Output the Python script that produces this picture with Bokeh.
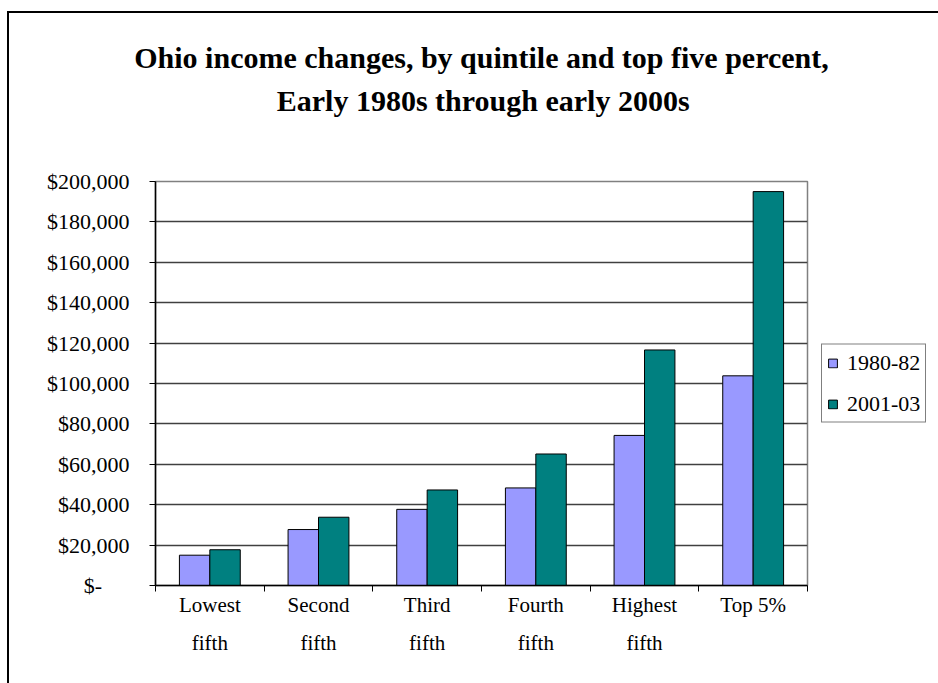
from bokeh.plotting import figure
from bokeh.models import (FactorRange, Range1d, LinearAxis, CategoricalAxis, FixedTicker,
                          NumeralTickFormatter, ColumnDataSource, Legend, LegendItem, Title,
                          CustomJSTickFormatter)
from bokeh.transform import dodge
from bokeh.embed import file_html
from bokeh.resources import INLINE

# ---- data ----
categories = ["Lowest fifth", "Second fifth", "Third fifth", "Fourth fifth", "Highest fifth", "Top 5%"]
label_line1 = ["Lowest", "Second", "Third", "Fourth", "Highest", "Top 5%"]
label_line2 = ["fifth", "fifth", "fifth", "fifth", "fifth", ""]
income_1980_82 = [15000, 27700, 37700, 48300, 74300, 103800]
income_2001_03 = [17700, 33800, 47300, 65100, 116600, 195000]
series_names = ["1980-82", "2001-03"]
y_ticks = [0, 20000, 40000, 60000, 80000, 100000, 120000, 140000, 160000, 180000, 200000]
title_line1 = "Ohio income changes, by quintile and top five percent,"
title_line2 = "Early 1980s through early 2000s"

SERIF = "Liberation Serif"
C1 = "#9999FF"
C2 = "#008080"
NB = "\u00a0"

source = ColumnDataSource(data=dict(cat=categories, a=income_1980_82, b=income_2001_03))

# canvas starts at page (9, 13): the chart box border sits just left/above it
p = figure(width=929, height=670, frame_width=652, frame_height=404,
           output_backend="svg", toolbar_location=None,
           x_range=FactorRange(*categories), y_range=Range1d(0, 200000),
           x_axis_location=None, y_axis_location="left",
           min_border_left=146, min_border_right=131, min_border_top=168, min_border_bottom=98)
p.styles = {"margin-left": "7px", "margin-top": "11px",
            "border-left": "2px solid #000000", "border-top": "2px solid #000000"}
p.x_range.range_padding = 0
p.background_fill_color = "white"
p.border_fill_color = "white"
p.outline_line_color = "#808080"
p.outline_line_width = 1.5

r1 = p.vbar(x=dodge("cat", -0.14, range=p.x_range), top="a", width=0.28, source=source,
            fill_color=C1, line_color="#000000", line_width=1)
r2 = p.vbar(x=dodge("cat", 0.14, range=p.x_range), top="b", width=0.28, source=source,
            fill_color=C2, line_color="#000000", line_width=1)

# y axis
ya = p.yaxis[0]
ya.ticker = FixedTicker(ticks=y_ticks)
ya.formatter = NumeralTickFormatter(format="$0,0")
ya.major_label_overrides = {0: "$-" + NB * 5}
ya.major_label_text_font = SERIF
ya.major_label_text_font_size = "22px"
ya.major_label_text_color = "#000000"
ya.axis_line_color = "#000000"
ya.axis_line_width = 1.5
ya.major_tick_line_color = "#000000"
ya.major_tick_out = 6
ya.major_tick_in = 0
ya.minor_tick_line_color = None
ya.major_label_standoff = 20

for g in p.grid:
    if g.dimension == 0:
        g.visible = False
    else:
        g.grid_line_color = "#404040"
        g.grid_line_width = 1.5
        g.ticker = FixedTicker(ticks=y_ticks)

# x axes: boundary ticks (between categories), then two lines of category labels
xa = LinearAxis(ticker=FixedTicker(ticks=list(range(len(categories) + 1))),
                major_label_text_font_size="0px", major_label_standoff=0,
                axis_line_color="#000000", axis_line_width=1.5,
                major_tick_line_color="#000000", major_tick_out=6, major_tick_in=0,
                minor_tick_line_color=None)
p.add_layout(xa, "below")

fmt1 = CustomJSTickFormatter(args=dict(cats=categories, labs=label_line1),
                             code="const i = cats.indexOf(tick); return i >= 0 ? labs[i] : '';")
fmt2 = CustomJSTickFormatter(args=dict(cats=categories, labs=label_line2),
                             code="const i = cats.indexOf(tick); return i >= 0 ? labs[i] : '';")
xb = CategoricalAxis(formatter=fmt1, axis_line_color=None, major_tick_line_color=None,
                     minor_tick_line_color=None,
                     major_label_text_font=SERIF, major_label_text_font_size="21px",
                     major_label_text_color="#000000", major_label_standoff=-5)
p.add_layout(xb, "below")
xc = CategoricalAxis(formatter=fmt2, axis_line_color=None, major_tick_line_color=None,
                     minor_tick_line_color=None,
                     major_label_text_font=SERIF, major_label_text_font_size="21px",
                     major_label_text_color="#000000", major_label_standoff=5)
p.add_layout(xc, "below")

# title: one multi-line title; second line indented to sit centred under the first,
# an empty third line lifts the block to the right height
title_text = title_line1 + "\n" + NB * 19 + title_line2 + "\n" + NB
t = Title(text=title_text, align="center", text_font=SERIF, text_font_size="30px",
          text_font_style="bold", text_color="#000000", standoff=44, text_line_height=1.30)
p.add_layout(t, "above")

# legend, to the right of the plot area
legend = Legend(items=[LegendItem(label=series_names[0], renderers=[r1]),
                       LegendItem(label=series_names[1], renderers=[r2])],
                location="center_left", orientation="vertical",
                label_text_font=SERIF, label_text_font_size="22px", label_text_color="#000000",
                glyph_width=11, glyph_height=11, label_standoff=9, label_height=20,
                spacing=15, padding=5, margin=14,
                border_line_color="#000000", border_line_width=1.5,
                background_fill_color="white", background_fill_alpha=1)
p.add_layout(legend, "right")

open("out.html", "w").write(file_html(p, INLINE))
